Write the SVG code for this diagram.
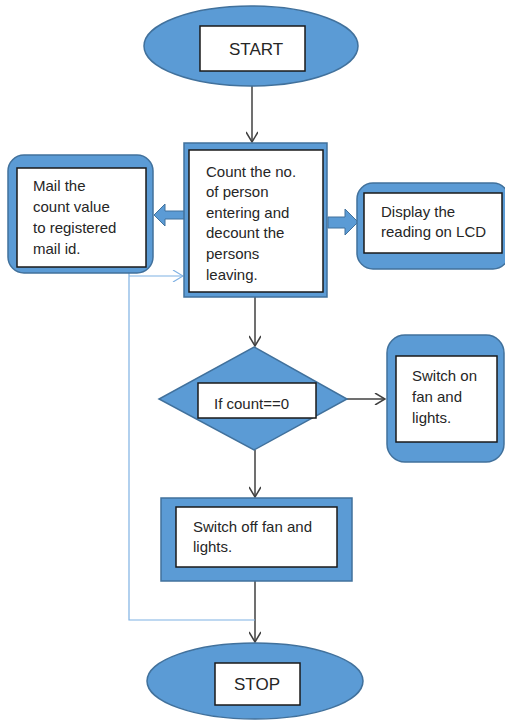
<svg xmlns="http://www.w3.org/2000/svg" width="505" height="720" viewBox="0 0 505 720">
<defs>
<style>
.blue{fill:#5b9bd5;stroke:#41719c;stroke-width:1.5}
.inner{fill:#ffffff;stroke:#1a1a1a;stroke-width:1.5}
.txt{font-family:"Liberation Sans",Arial,sans-serif;font-size:15px;fill:#262626}
.big{font-family:"Liberation Sans",Arial,sans-serif;font-size:17px;fill:#262626}
.conn{fill:none;stroke:#404040;stroke-width:1.5}
.lb{fill:none;stroke:#7fb1e3;stroke-width:1.2}
.blk{fill:#5b9bd5;stroke:#41719c;stroke-width:1}
</style>
<marker id="ah" viewBox="0 0 12 12" refX="11" refY="6" markerWidth="12" markerHeight="12" markerUnits="userSpaceOnUse" orient="auto">
<path d="M1,0 L11,6 L1,12" fill="none" stroke="#404040" stroke-width="1.5"/>
</marker>
<marker id="ahl" viewBox="0 0 12 12" refX="11" refY="6" markerWidth="12" markerHeight="12" markerUnits="userSpaceOnUse" orient="auto">
<path d="M1,0 L11,6 L1,12" fill="none" stroke="#7fb1e3" stroke-width="1.2"/>
</marker>
</defs>
<rect width="505" height="720" fill="#ffffff"/>

<g id="connectors">
<line class="conn" x1="252" y1="86" x2="252" y2="142" marker-end="url(#ah)"/>
<line class="conn" x1="255" y1="297" x2="255" y2="346" marker-end="url(#ah)"/>
<line class="conn" x1="347" y1="399" x2="385" y2="399" marker-end="url(#ah)"/>
<line class="conn" x1="255" y1="450" x2="255" y2="497" marker-end="url(#ah)"/>
<line class="conn" x1="255" y1="581" x2="255" y2="642" marker-end="url(#ah)"/>
<polyline class="lb" points="129,273 129,620 255,620"/>
<line class="lb" x1="129" y1="276" x2="183" y2="276" marker-end="url(#ahl)"/>
<polygon class="blk" points="185,211 165,211 165,204 154,215 165,226 165,219 185,219"/>
<polygon class="blk" points="328,217 345,217 345,209 358,222 345,235 345,228 328,228"/>
</g>

<g id="start">
<ellipse class="blue" cx="251" cy="46" rx="107" ry="40"/>
<rect class="inner" x="200" y="26" width="105" height="45"/>
<text class="big" x="256" y="55" text-anchor="middle">START</text>
</g>

<g id="count">
<rect class="blue" x="184" y="143" width="143" height="154"/>
<rect class="inner" x="189" y="150" width="134" height="142"/>
<text class="txt" x="206" y="177">Count the no.</text>
<text class="txt" x="206" y="197">of person</text>
<text class="txt" x="206" y="218">entering and</text>
<text class="txt" x="206" y="238">decount the</text>
<text class="txt" x="206" y="259">persons</text>
<text class="txt" x="206" y="280">leaving.</text>
</g>

<g id="mail">
<rect class="blue" x="8" y="155" width="145" height="118" rx="16"/>
<rect class="inner" x="17" y="168" width="129" height="99"/>
<text class="txt" x="33" y="191">Mail the</text>
<text class="txt" x="33" y="212">count value</text>
<text class="txt" x="33" y="233">to registered</text>
<text class="txt" x="33" y="254">mail id.</text>
</g>

<g id="display">
<rect class="blue" x="357" y="183" width="152" height="86" rx="16"/>
<rect class="inner" x="364" y="193" width="138" height="60"/>
<text class="txt" x="381" y="217">Display the</text>
<text class="txt" x="381" y="237">reading on LCD</text>
</g>

<g id="decision">
<polygon class="blue" points="254,347 347,399 254,450 159,399"/>
<rect class="inner" x="198" y="383" width="118" height="35"/>
<text class="txt" x="214" y="409">If count==0</text>
</g>

<g id="switchon">
<rect class="blue" x="387" y="335" width="117" height="127" rx="18"/>
<rect class="inner" x="396" y="356" width="101" height="86"/>
<text class="txt" x="412" y="381">Switch on</text>
<text class="txt" x="412" y="402">fan and</text>
<text class="txt" x="412" y="423">lights.</text>
</g>

<g id="switchoff">
<rect class="blue" x="161" y="498" width="191" height="83"/>
<rect class="inner" x="176" y="507" width="161" height="60"/>
<text class="txt" x="193" y="532">Switch off fan and</text>
<text class="txt" x="193" y="552">lights.</text>
</g>

<g id="stop">
<ellipse class="blue" cx="255" cy="681" rx="108" ry="38"/>
<rect class="inner" x="215" y="663" width="85" height="42"/>
<text class="big" x="257" y="690" text-anchor="middle">STOP</text>
</g>
</svg>
